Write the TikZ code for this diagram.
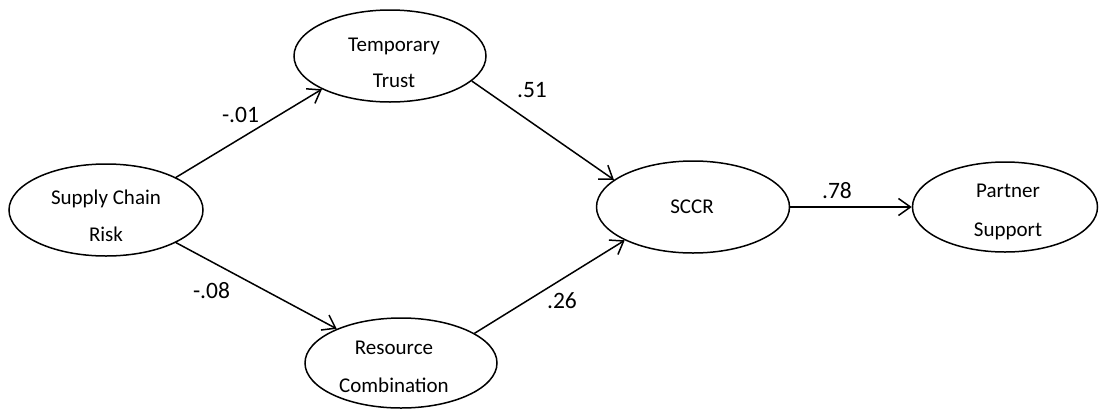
\documentclass[tikz,border=0pt]{standalone}
\usepackage{fontspec}
\setmainfont{Carlito}
\usetikzlibrary{shapes.geometric,arrows.meta}

\tikzset{
  construct/.style={draw=black, ellipse, line width=1.5pt, inner sep=0pt},
  ctext/.style={anchor=base, inner sep=0pt, font=\fontsize{21}{25}\selectfont},
  coef/.style={anchor=base, inner sep=0pt, font=\fontsize{23.5}{28}\selectfont},
  path/.style={line width=1.5pt, -{Straight Barb[length=12pt,width=17pt,line width=1.5pt]}}
}

\begin{document}
\begin{tikzpicture}[x=1pt, y=-1pt]
  \useasboundingbox (0,0) rectangle (1100,408);

  % latent constructs
  \node[construct, minimum width=194pt, minimum height=92pt] (scr)  at (106,210) {};
  \node[construct, minimum width=192pt, minimum height=92pt] (tt)   at (390,56)  {};
  \node[construct, minimum width=192pt, minimum height=90pt] (rc)   at (401,363) {};
  \node[construct, minimum width=193pt, minimum height=92pt] (sccr) at (693,207) {};
  \node[construct, minimum width=185pt, minimum height=90pt] (ps)   at (1005,207) {};

  % construct names
  \node[ctext] (scr-a) at (106,204) {Supply Chain};
  \node[ctext] (scr-b) at (106,241) {Risk};
  \node[ctext] (tt-a)  at (394,51)  {Temporary};
  \node[ctext] (tt-b)  at (394,87)  {Trust};
  \node[ctext] (rc-a)  at (394,354) {Resource};
  \node[ctext] (rc-b)  at (394,392) {Combination};
  \node[ctext] (sccr-a) at (692,213) {SCCR};
  \node[ctext] (ps-a)  at (1008,197) {Partner};
  \node[ctext] (ps-b)  at (1008,236) {Support};

  % structural paths
  \draw[path] (scr.25)  -- (tt.206);
  \draw[path] (scr.-25) -- (rc.152);
  \draw[path] (tt.-17)  -- (sccr.161);
  \draw[path] (rc.22)   -- (sccr.206);
  \draw[path] (sccr)    -- (ps);

  % path coefficients
  \node[coef] (c1) at (240.5,122) {-.01};
  \node[coef] (c2) at (532,97)    {.51};
  \node[coef] (c3) at (211.5,298) {-.08};
  \node[coef] (c4) at (562,308)   {.26};
  \node[coef] (c5) at (837,198)   {.78};
\end{tikzpicture}
\end{document}
